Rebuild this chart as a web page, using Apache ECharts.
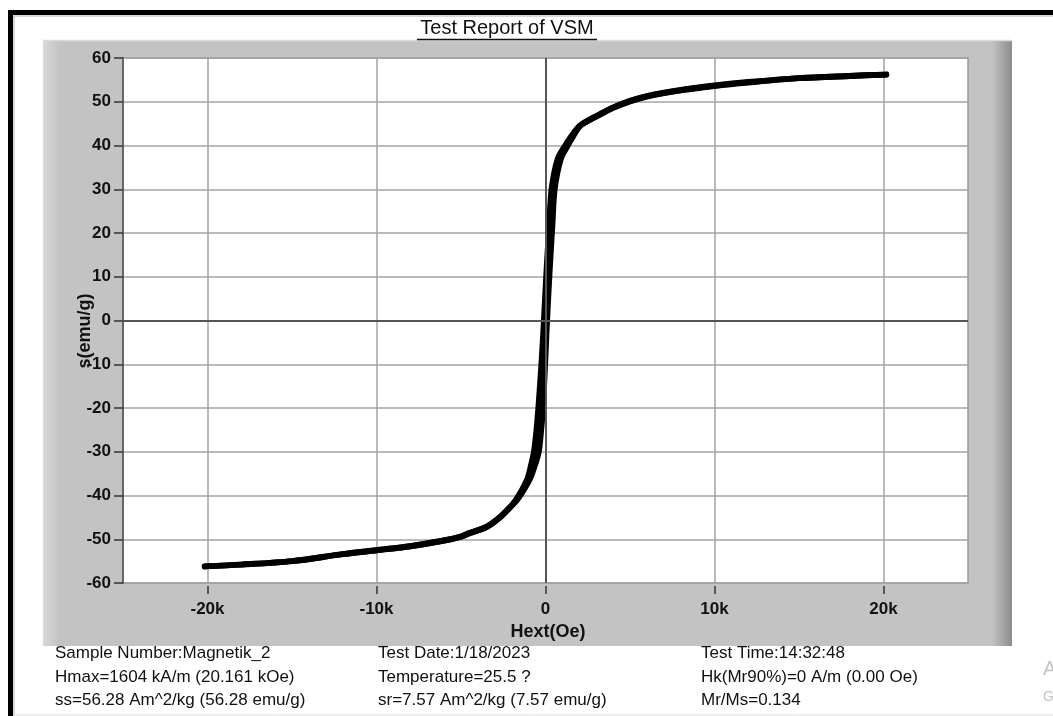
<!DOCTYPE html>
<html>
<head>
<meta charset="utf-8">
<title>Test Report of VSM</title>
<script src="https://cdn.jsdelivr.net/npm/echarts@6/dist/echarts.min.js"></script>
<style>
  html, body { margin: 0; padding: 0; background: #ffffff; overflow: hidden; }
  #chart { width: 1053px; height: 716px; }
</style>
</head>
<body>
<div id="chart"></div>
<script>
// Hysteresis loop: applied field Hext (Oe) vs specific magnetization s (emu/g)

// Descending branch: +Hmax -> -Hmax
const descField = [20161, 18000, 15000, 12000, 10000, 8000, 6000, 5000, 4000, 3200, 2500, 2000, 1550, 1150, 720, 360, 220, 110, 10, -90, -200, -300, -420, -530, -680, -850, -1050, -1400, -1750, -2100, -2700, -3500, -4500, -5000, -6000, -8000, -10000, -12000, -15000, -18000, -20161];
const descMoment = [56.2, 55.9, 55.4, 54.5, 53.7, 52.7, 51.3, 50.2, 48.7, 47.1, 45.7, 44.4, 42.2, 39.9, 36.9, 30, 21.5, 14.5, 7.6, 0, -7.6, -13.5, -20, -25, -30, -33, -36, -38.8, -41, -42.7, -45, -47.2, -48.6, -49.4, -50.3, -51.6, -52.5, -53.4, -55.0, -55.8, -56.2];

// Ascending branch: -Hmax -> +Hmax
const ascField = [-20161, -18000, -15000, -12000, -10000, -8000, -6000, -5000, -4500, -3500, -2700, -2100, -1680, -1300, -900, -620, -400, -260, -150, -70, 0, 90, 190, 290, 400, 540, 900, 1300, 1620, 2000, 2500, 3200, 4000, 5000, 6000, 8000, 10000, 12000, 15000, 18000, 20161];
const ascMoment = [-56.2, -55.8, -55.0, -53.4, -52.5, -51.6, -50.3, -49.4, -48.6, -47.2, -45, -42.7, -41, -38.8, -36, -33, -30, -25, -20, -13.5, -7.6, 0, 7.6, 14.5, 21.5, 30, 36.9, 39.9, 42, 44.3, 45.6, 47.0, 48.6, 50.1, 51.2, 52.6, 53.6, 54.4, 55.4, 55.9, 56.2];

// Labelled tick positions
const xTickValues = [-20000, -10000, 0, 10000, 20000];
const yTickValues = [-60, -50, -40, -30, -20, -10, 0, 10, 20, 30, 40, 50, 60];

// Report text below the chart, one list per column
const infoColumn1 = ['Sample Number:Magnetik_2', 'Hmax=1604 kA/m (20.161 kOe)', 'ss=56.28 Am^2/kg (56.28 emu/g)'];
const infoColumn2 = ['Test Date:1/18/2023', 'Temperature=25.5 ?', 'sr=7.57 Am^2/kg (7.57 emu/g)'];
const infoColumn3 = ['Test Time:14:32:48', 'Hk(Mr90%)=0 A/m (0.00 Oe)', 'Mr/Ms=0.134'];

const FONT = '"Liberation Sans", Arial, Helvetica, sans-serif';

const toPairs = (xs, ys) => xs.map((x, i) => [x, ys[i]]);

const chart = echarts.init(document.getElementById('chart'), null, { renderer: 'canvas' });

const infoText = [];
const infoCols = [[55, infoColumn1], [378, infoColumn2], [701, infoColumn3]];
const infoRows = [653, 677, 700];
infoCols.forEach(([x, lines]) => {
  lines.forEach((t, r) => {
    infoText.push({
      type: 'text', x: x, y: infoRows[r], silent: true, z: 5,
      style: { text: t, font: '17px ' + FONT, fill: '#111', textAlign: 'left', textVerticalAlign: 'middle' }
    });
  });
});

const loopLine = { color: '#000', width: 6, cap: 'round', join: 'round' };

const option = {
  backgroundColor: '#ffffff',
  animation: false,
  grid: {
    left: 123, right: 85, top: 58, bottom: 133,
    show: true, backgroundColor: '#ffffff', borderColor: '#9a9a9a', borderWidth: 1.5
  },
  xAxis: {
    type: 'value', min: -25000, max: 25000, interval: 5000, offset: 3,
    axisLine: { show: false, onZero: false },
    axisTick: { show: true, customValues: xTickValues, length: 8, lineStyle: { color: '#333', width: 1.5 } },
    axisLabel: {
      customValues: xTickValues, margin: 15, fontSize: 17, fontWeight: 'bold', color: '#111', fontFamily: FONT,
      formatter: v => (v === 0 ? '0' : (v / 1000) + 'k')
    },
    splitLine: { show: true, lineStyle: { color: '#a3a3a3', width: 1.5 } }
  },
  yAxis: {
    type: 'value', min: -60, max: 60, interval: 5,
    axisLine: { show: true, onZero: false, lineStyle: { color: '#666', width: 2 } },
    axisTick: { show: true, customValues: yTickValues, length: 9, lineStyle: { color: '#333', width: 1.5 } },
    axisLabel: { customValues: yTickValues, margin: 12, fontSize: 17, fontWeight: 'bold', color: '#111', fontFamily: FONT },
    splitLine: { show: true, lineStyle: { color: '#a3a3a3', width: 1.5 } }
  },
  series: [
    {
      // zero reference lines under the loop
      type: 'line', data: [[0, 0]], showSymbol: false, z: 1, silent: true,
      lineStyle: { opacity: 0 },
      markLine: {
        silent: true, symbol: 'none', label: { show: false },
        lineStyle: { color: '#555', width: 2, type: 'solid' },
        data: [{ xAxis: 0 }, { yAxis: 0 }]
      }
    },
    {
      name: 'descending', type: 'line', data: toPairs(descField, descMoment), z: 3,
      showSymbol: false, smooth: 0.3, silent: true, lineStyle: loopLine
    },
    {
      name: 'ascending', type: 'line', data: toPairs(ascField, ascMoment), z: 3,
      showSymbol: false, smooth: 0.3, silent: true, lineStyle: loopLine
    }
  ],
  graphic: {
    elements: [
      // outer black frame
      { type: 'rect', silent: true, z: -20, shape: { x: 10.5, y: 12.5, width: 1100, height: 760 },
        style: { fill: 'none', stroke: '#000', lineWidth: 5 } },
      { type: 'rect', silent: true, z: -20, shape: { x: 14, y: 16, width: 1100, height: 760 },
        style: { fill: 'none', stroke: '#b0b0b0', lineWidth: 1 } },
      { type: 'line', silent: true, z: -20, shape: { x1: 14, y1: 715, x2: 1053, y2: 715 },
        style: { stroke: '#dcdcdc', lineWidth: 1 } },
      // grey chart panel
      { type: 'rect', silent: true, z: -10, shape: { x: 43, y: 40, width: 969, height: 606 },
        style: { fill: '#c3c3c3' } },
      { type: 'rect', silent: true, z: -9, shape: { x: 43, y: 40, width: 16, height: 606 },
        style: { fill: new echarts.graphic.LinearGradient(0, 0, 1, 0, [
          { offset: 0, color: '#d8d8d8' }, { offset: 1, color: '#c3c3c3' }]) } },
      { type: 'rect', silent: true, z: -9, shape: { x: 992, y: 40, width: 20, height: 606 },
        style: { fill: new echarts.graphic.LinearGradient(0, 0, 1, 0, [
          { offset: 0, color: '#c3c3c3' }, { offset: 1, color: '#8c8c8c' }]) } },
      { type: 'line', silent: true, z: -8, shape: { x1: 43, y1: 40.5, x2: 1012, y2: 40.5 },
        style: { stroke: '#dadada', lineWidth: 1.5 } },
      // title with underline
      { type: 'text', silent: true, z: 5, x: 507, y: 28,
        style: { text: 'Test Report of VSM', font: '20px ' + FONT, fill: '#111', textAlign: 'center', textVerticalAlign: 'middle' } },
      { type: 'line', silent: true, z: 5, shape: { x1: 417, y1: 39.5, x2: 597, y2: 39.5 },
        style: { stroke: '#111', lineWidth: 1.5 } },
      // axis names
      { type: 'text', silent: true, z: 5, x: 548, y: 632,
        style: { text: 'Hext(Oe)', font: 'bold 18px ' + FONT, fill: '#111', textAlign: 'center', textVerticalAlign: 'middle' } },
      { type: 'text', silent: true, z: 5, x: 85, y: 331, rotation: Math.PI / 2,
        style: { text: 's(emu/g)', font: 'bold 18px ' + FONT, fill: '#111', textAlign: 'center', textVerticalAlign: 'middle' } },
      // faint desktop overlay text at the right edge
      { type: 'text', silent: true, z: 5, x: 1043, y: 669,
        style: { text: 'Activate Windows', font: '20px ' + FONT, fill: '#c4c4c4', textAlign: 'left', textVerticalAlign: 'middle' } },
      { type: 'text', silent: true, z: 5, x: 1043, y: 697,
        style: { text: 'Go to Settings to activate Windows.', font: '14px ' + FONT, fill: '#c4c4c4', textAlign: 'left', textVerticalAlign: 'middle' } }
    ].concat(infoText)
  }
};

chart.setOption(option);
</script>
</body>
</html>
